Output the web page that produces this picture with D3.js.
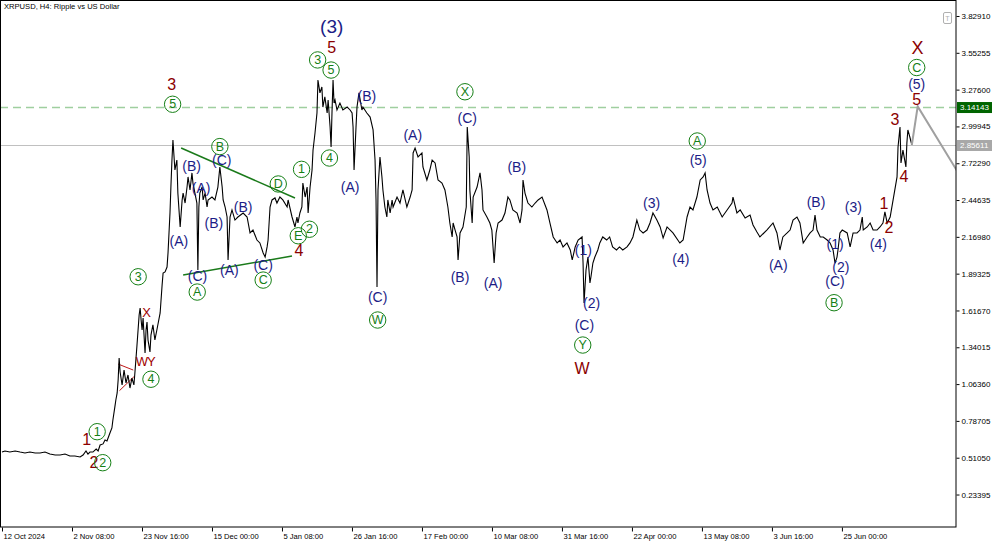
<!DOCTYPE html>
<html><head><meta charset="utf-8">
<script src="https://cdn.jsdelivr.net/npm/d3@7/dist/d3.min.js"></script>
<style>body{margin:0;background:#fff}svg{display:block}</style>
</head><body>
<svg id="c" width="1000" height="545"></svg>
<script>
// ---------- DATA (day offsets from 12 Oct 2024, close price) ----------
const startDate = "2024-10-12T00:00:00Z";
const closesOctNov = [[0,.553],[0.9,.561],[2.4,.553],[4.0,.561],[5.5,.553],[7.0,.546],[8.5,.553],[10.1,.546],[11.6,.546],[13.1,.553],[14.6,.538],[16.2,.531],[17.7,.531],[19.2,.538],[20.7,.523],[22.2,.523],[23.8,.516],[24.7,.531],[25.6,.561],[26.2,.538],[26.8,.553],[27.7,.553],[28.7,.576],[29.3,.561],[29.9,.606],[30.8,.614],[31.4,.644],[32.0,.636],[32.9,.696],[33.5,.734],[33.8,.794],[34.4,.892],[34.7,.944],[35.1,.997],[35.4,1.094],[35.7,1.260],[36.0,1.154],[36.6,1.057],[37.2,1.169],[37.8,1.072],[38.4,1.132],[39.0,1.034],[39.6,1.109],[40.2,1.057],[40.5,1.147],[41.1,1.342],[41.8,1.583],[42.1,1.635],[42.4,1.545],[42.7,1.470],[43.0,1.560],[43.6,1.297],[43.9,1.470],[44.2,1.530],[44.5,1.395],[45.1,1.305],[45.4,1.432],[46.0,1.508],[46.6,1.395],[47.2,1.470],[48.2,1.598],[48.8,1.808],[49.1,1.898]];
const closesDecJan = [[49.7,1.906],[50.3,1.943],[50.6,2.049],[51.2,2.349],[51.5,2.559],[51.8,2.747],[52.1,2.898],[52.7,2.672],[53.3,2.747],[53.6,2.499],[54.3,2.244],[54.9,2.447],[55.2,2.499],[55.8,2.424],[56.4,2.544],[56.7,2.620],[57.3,2.522],[57.9,2.650],[58.2,2.574],[58.8,2.499],[59.4,2.424],[59.7,1.921],[60.0,2.394],[60.3,2.499],[61.0,2.544],[61.3,2.447],[61.9,2.499],[62.5,2.394],[62.8,2.447],[64.0,2.469],[64.9,2.447],[65.8,2.544],[66.4,2.695],[67.1,2.544],[67.4,2.447],[68.0,2.394],[68.6,2.319],[68.9,1.996],[69.5,2.319],[70.1,2.372],[71.0,2.296],[71.9,2.319],[73.5,2.349],[74.7,2.319],[75.6,2.199],[76.5,2.221],[77.7,2.146],[78.6,2.124],[79.6,2.049],[80.2,2.018],[80.8,2.094],[81.1,2.146],[81.7,2.394],[82.3,2.447],[83.2,2.462],[83.8,2.424],[84.7,2.469],[85.6,2.447],[86.9,2.394],[87.2,2.447],[88.4,2.319],[89.3,2.244],[89.9,2.319],[90.2,2.274],[90.8,2.349]];
const closesJanFeb = [[91.4,2.394],[91.7,2.574],[92.4,2.469],[93.0,2.544],[93.3,2.349],[93.9,2.544],[94.5,2.672],[94.8,2.822],[95.4,2.950],[96.0,3.100],[96.3,3.348],[96.9,3.251],[97.5,3.296],[97.8,3.145],[98.4,3.221],[99.1,3.100],[99.4,3.198],[100.0,2.995],[100.3,2.845],[100.6,3.123],[100.9,3.348],[101.2,3.175],[101.5,3.198],[102.1,3.123],[103.0,3.175],[103.9,3.123],[105.2,3.145],[106.1,3.123],[106.7,3.100],[107.0,2.995],[107.3,2.672],[107.9,2.995],[108.2,3.145],[108.8,3.251],[109.7,3.123],[110.0,3.145],[111.2,3.100],[112.2,3.070],[113.1,2.973],[113.7,2.747],[114.0,2.447],[114.3,1.793],[114.6,2.522],[115.2,2.770],[115.8,2.620],[116.1,2.522],[116.7,2.394],[117.3,2.319],[117.6,2.447],[118.3,2.349],[118.9,2.447],[119.2,2.394],[120.4,2.469],[121.3,2.424],[122.2,2.522],[123.4,2.394],[124.4,2.469],[125.0,2.522],[125.3,2.800],[125.9,2.837],[126.8,2.770],[128.0,2.800],[128.3,2.695],[129.5,2.597],[130.4,2.672],[131.1,2.747],[132.0,2.725],[132.9,2.597],[134.1,2.574],[135.0,2.522],[135.9,2.394],[136.5,2.274],[137.2,2.169],[137.5,2.274],[138.1,2.221],[138.7,2.169],[139.0,1.996],[139.6,2.199],[140.5,2.244],[141.5,2.394]];
const closesFebApr = [[141.8,2.995],[142.4,2.770],[142.6,2.522],[143.3,2.274],[143.6,2.469],[144.8,2.544],[145.7,2.650],[146.3,2.522],[146.6,2.372],[147.8,2.319],[148.7,2.274],[149.3,2.221],[150.0,1.973],[150.6,2.199],[151.2,2.274],[152.4,2.296],[153.3,2.349],[154.2,2.469],[154.8,2.447],[155.7,2.372],[157.0,2.349],[157.9,2.274],[158.5,2.372],[158.8,2.597],[159.4,2.499],[160.3,2.424],[161.5,2.394],[162.5,2.424],[163.4,2.447],[164.6,2.469],[166.1,2.372],[167.0,2.274],[168.0,2.169],[169.2,2.124],[170.1,2.146],[171.0,2.094],[172.2,2.124],[173.2,2.071],[173.8,1.996],[174.7,2.094],[175.6,2.146],[176.8,2.169],[177.1,1.973],[177.4,1.673],[178.0,1.921],[178.6,2.018],[179.2,1.823],[179.5,1.868],[180.1,1.973],[180.7,2.018],[181.6,2.071],[182.2,2.124],[183.1,2.169],[184.3,2.146],[185.2,2.169],[186.1,2.094],[187.3,2.071],[188.2,2.094],[189.2,2.071],[190.5,2.094],[191.4,2.124],[192.3,2.169],[193.5,2.296],[194.4,2.221],[195.4,2.199],[196.6,2.221],[197.5,2.274],[198.4,2.349]];
const closesAprJul = [[199.6,2.296],[200.6,2.244],[201.5,2.161],[202.7,2.244],[204.5,2.199],[206.6,2.124],[207.6,2.146],[208.8,2.319],[209.7,2.394],[210.6,2.372],[211.8,2.469],[212.8,2.597],[213.7,2.620],[214.3,2.650],[214.9,2.522],[215.8,2.424],[216.7,2.372],[218.0,2.394],[219.5,2.319],[221.0,2.372],[222.5,2.424],[222.8,2.469],[224.0,2.349],[225.0,2.372],[226.5,2.311],[228.0,2.334],[228.9,2.259],[230.1,2.206],[231.0,2.169],[233.1,2.221],[235.0,2.274],[236.2,2.199],[237.1,2.071],[238.0,2.169],[239.3,2.199],[240.2,2.221],[241.1,2.296],[242.3,2.319],[243.2,2.274],[244.2,2.124],[245.4,2.169],[246.3,2.199],[247.2,2.221],[247.8,2.334],[248.4,2.221],[249.4,2.169],[250.3,2.169],[251.5,2.146],[252.4,2.124],[253.3,2.071],[253.9,1.973],[254.5,2.018],[254.8,2.071],[255.4,2.199],[256.1,2.221],[257.6,2.199],[258.5,2.094],[259.4,2.199],[260.6,2.199],[261.5,2.221],[262.2,2.319],[262.5,2.221],[263.7,2.244],[264.6,2.274],[265.5,2.221],[266.7,2.221],[267.6,2.244],[268.5,2.274],[269.1,2.357],[269.8,2.274],[270.7,2.319],[271.6,2.447],[272.8,2.620],[273.1,2.845],[273.7,2.995],[274.0,2.725],[274.6,2.822],[275.5,2.695],[275.8,2.875],[276.1,2.973],[276.7,2.920],[277.3,2.860]];
const projection = [[277.3,2.860],[279.1,3.150],[291.1,2.665]];
const triangleUpper = [[54.6,2.837],[89.3,2.462]];
const triangleLower = [[55.2,1.883],[88.4,2.026]];
const redTriangleTop = [[35.4,1.214],[40.0,1.169]];
const redTriangleBottom = [[35.8,1.014],[40.2,1.119]];
const targetLevel = 3.14143;
const bidLevel = 2.85611;
const yTickValues = [3.82910,3.55255,3.27600,2.99945,2.72290,2.44635,2.16980,1.89325,1.61670,1.34015,1.06360,0.78705,0.51050,0.23395];
const xTickLabels = ["12 Oct 2024","2 Nov 08:00","23 Nov 16:00","15 Dec 00:00","5 Jan 08:00","26 Jan 16:00","17 Feb 00:00","10 Mar 08:00","31 Mar 16:00","22 Apr 00:00","13 May 08:00","3 Jun 16:00","25 Jun 00:00"];
const xTickTimes = ["2024-10-12T00:00Z","2024-11-02T08:00Z","2024-11-23T16:00Z","2024-12-15T00:00Z","2025-01-05T08:00Z","2025-01-26T16:00Z","2025-02-17T00:00Z","2025-03-10T08:00Z","2025-03-31T16:00Z","2025-04-22T00:00Z","2025-05-13T08:00Z","2025-06-03T16:00Z","2025-06-25T00:00Z"];
// wave labels: [day, price, text, degree]
const waveLabels = [
 [100.5,3.749,"(3)","P"],[100.5,3.589,"5","r"],[96.2,3.499,"3","c"],[100.3,3.423,"5","c"],
 [111.2,3.228,"(B)","p"],[99.8,2.762,"4","c"],[106.1,2.547,"(A)","p"],[114.5,1.720,"(C)","p"],[114.5,1.545,"W","c"],
 [125.2,2.935,"(A)","p"],[141.1,3.260,"X","c"],[141.8,3.060,"(C)","p"],[139.6,1.870,"(B)","p"],[149.7,1.823,"(A)","p"],
 [156.9,2.695,"(B)","p"],[177.2,2.071,"(1)","p"],[179.7,1.671,"(2)","p"],[177.5,1.508,"(C)","p"],[177.0,1.357,"Y","c"],[176.8,1.184,"W","r"],
 [198.0,2.426,"(3)","p"],[206.9,2.001,"(4)","p"],[211.9,2.890,"A","c"],[212.2,2.747,"(5)","p"],
 [236.6,1.958,"(A)","p"],[248.1,2.434,"(B)","p"],[253.9,2.116,"(1)","p"],[255.7,1.943,"(2)","p"],[253.9,1.838,"(C)","p"],[253.6,1.675,"B","c"],
 [259.5,2.396,"(3)","p"],[267.1,2.114,"(4)","p"],[268.8,2.422,"1","r"],[270.3,2.242,"2","r"],[272.2,3.053,"3","r"],[274.9,2.622,"4","r"],
 [278.8,3.200,"5","r"],[278.8,3.318,"(5)","p"],[278.8,3.442,"C","c"],[279.0,3.586,"X","R"],
 [51.7,3.316,"3","r"],[52.0,3.166,"5","c"],[66.4,2.848,"B","c"],[67.0,2.750,"(C)","p"],[57.8,2.702,"(B)","p"],[60.7,2.539,"(A)","p"],
 [64.6,2.276,"(B)","p"],[73.5,2.396,"(B)","p"],[53.9,2.139,"(A)","p"],[84.2,2.567,"D","c"],[91.3,2.677,"1","c"],[93.7,2.227,"2","c"],
 [90.3,2.178,"E","c"],[90.5,2.064,"4","r"],[59.6,1.872,"(C)","p"],[59.5,1.755,"A","c"],[69.3,1.921,"(A)","p"],[79.6,1.962,"(C)","p"],[79.6,1.845,"C","c"],
 [41.5,1.870,"3","c"],[44.1,1.598,"X","rs"],[42.6,1.237,"W","rs"],[45.5,1.237,"Y","rs"],[45.4,1.100,"4","c"],
 [29.0,0.706,"1","c"],[25.8,0.649,"1","r"],[28.0,0.473,"2","r"],[30.7,0.473,"2","c"]
];

// ---------- CHART ----------
const svg = d3.select("#c");
const FONT = "'Liberation Sans', Arial, sans-serif";
const t0 = Date.parse(startDate), DAY = 864e5;
const toDate = d => new Date(t0 + d * DAY);
const plotL = 0, plotR = 956, plotT = 0, plotB = 527;
const x = d3.scaleUtc().domain([toDate(0), toDate(290.77)]).range([2, plotR]);
const y = d3.scaleLinear().domain([-0.0101, 3.9493]).range([plotB, plotT]);

svg.append("rect").attr("width",1000).attr("height",545).attr("fill","#fff");
svg.append("defs").append("clipPath").attr("id","clip")
  .append("rect").attr("x",plotL).attr("y",plotT).attr("width",plotR-plotL).attr("height",plotB-plotT);
const g = svg.append("g").attr("clip-path","url(#clip)");

// horizontal levels
g.append("line").attr("x1",plotL).attr("x2",plotR).attr("y1",y(bidLevel)).attr("y2",y(bidLevel))
  .attr("stroke","#c0c0c0").attr("stroke-width",1);
g.append("line").attr("x1",plotL).attr("x2",plotR).attr("y1",y(targetLevel)).attr("y2",y(targetLevel))
  .attr("stroke","#9fcf9f").attr("stroke-width",1.6).attr("stroke-dasharray","8,5");

const line = d3.line().x(d => x(toDate(d[0]))).y(d => y(d[1]));
const series = [].concat(closesOctNov, closesDecJan, closesJanFeb, closesFebApr, closesAprJul);

// trend lines
g.append("path").datum(triangleUpper).attr("d",line).attr("stroke","#1a7a1a").attr("stroke-width",1.5).attr("fill","none");
g.append("path").datum(triangleLower).attr("d",line).attr("stroke","#1a7a1a").attr("stroke-width",1.5).attr("fill","none");
g.append("path").datum(redTriangleTop).attr("d",line).attr("stroke","#c01818").attr("stroke-width",1).attr("fill","none");
g.append("path").datum(redTriangleBottom).attr("d",line).attr("stroke","#c01818").attr("stroke-width",1).attr("fill","none");

// price line
g.append("path").datum(series).attr("d",line).attr("stroke","#000").attr("stroke-width",1.1).attr("fill","none")
  .attr("stroke-linejoin","miter");
// projection
g.append("path").datum(projection).attr("d",line).attr("stroke","#a0a0a0").attr("stroke-width",2).attr("fill","none");

// wave labels
const styles = {
  p: {fill:"#1c1c86", size:14},
  P: {fill:"#1c1c86", size:19},
  r: {fill:"#8b0000", size:16},
  rs:{fill:"#a00000", size:13},
  R: {fill:"#8b0000", size:18},
  c: {fill:"#168016", size:12.5}
};
const lg = svg.append("g").attr("font-family",FONT);
waveLabels.forEach(([d,p,txt,k]) => {
  const cx = x(toDate(d)), cy = y(p), s = styles[k];
  if (k === "c") {
    lg.append("circle").attr("cx",cx).attr("cy",cy).attr("r",8.2)
      .attr("fill","none").attr("stroke",s.fill).attr("stroke-width",1);
  }
  lg.append("text").attr("x",cx).attr("y",cy).attr("text-anchor","middle")
    .attr("dominant-baseline","central").attr("font-size",s.size).attr("fill",s.fill).text(txt);
});

// frame
svg.append("rect").attr("x",0.5).attr("y",0.5).attr("width",plotR-0.5).attr("height",plotB-0.5)
  .attr("fill","none").attr("stroke","#000").attr("stroke-width",1);

// right axis
const ya = d3.axisRight(y).tickValues(yTickValues).tickFormat(d3.format(".5f")).tickSize(3).tickPadding(2);
const yg = svg.append("g").attr("transform",`translate(${plotR+0.5},0)`).call(ya);
yg.select(".domain").remove();
yg.selectAll("text").attr("font-family",FONT).attr("font-size",8).attr("fill","#000");
yg.selectAll("line").attr("stroke","#000");

// bottom axis
const xDates = xTickTimes.map(s => new Date(Date.parse(s)));
const xa = d3.axisBottom(x).tickValues(xDates).tickFormat((d,i) => xTickLabels[i]).tickSize(4).tickPadding(2);
const xg = svg.append("g").attr("transform",`translate(0,${plotB+0.5})`).call(xa);
xg.select(".domain").remove();
xg.selectAll("text").attr("font-family",FONT).attr("font-size",7.6).attr("fill","#000")
  .attr("text-anchor","start").attr("dx",1);
xg.selectAll("line").attr("stroke","#000");

// price tags on axis
function tag(v, bg) {
  const cy = y(v);
  svg.append("rect").attr("x",plotR+1).attr("y",cy-5.5).attr("width",35).attr("height",11).attr("fill",bg);
  svg.append("text").attr("x",plotR+4).attr("y",cy).attr("dominant-baseline","central")
    .attr("font-family",FONT).attr("font-size",8).attr("fill","#fff").text(d3.format(".5f")(v));
}
tag(targetLevel, "#006400");
tag(bidLevel, "#a8a8a8");

// title
svg.append("text").attr("x",4).attr("y",9).attr("font-family",FONT).attr("font-size",7.6)
  .attr("fill","#000").text("XRPUSD, H4:  Ripple vs US Dollar");

// small "T" button
svg.append("rect").attr("x",943.5).attr("y",12.5).attr("width",8).attr("height",11).attr("rx",1.5)
  .attr("fill","#fff").attr("stroke","#b0b0b0");
svg.append("text").attr("x",947.5).attr("y",18.5).attr("text-anchor","middle").attr("dominant-baseline","central")
  .attr("font-family",FONT).attr("font-size",7).attr("fill","#b0b0b0").text("T");
</script>
</body></html>
